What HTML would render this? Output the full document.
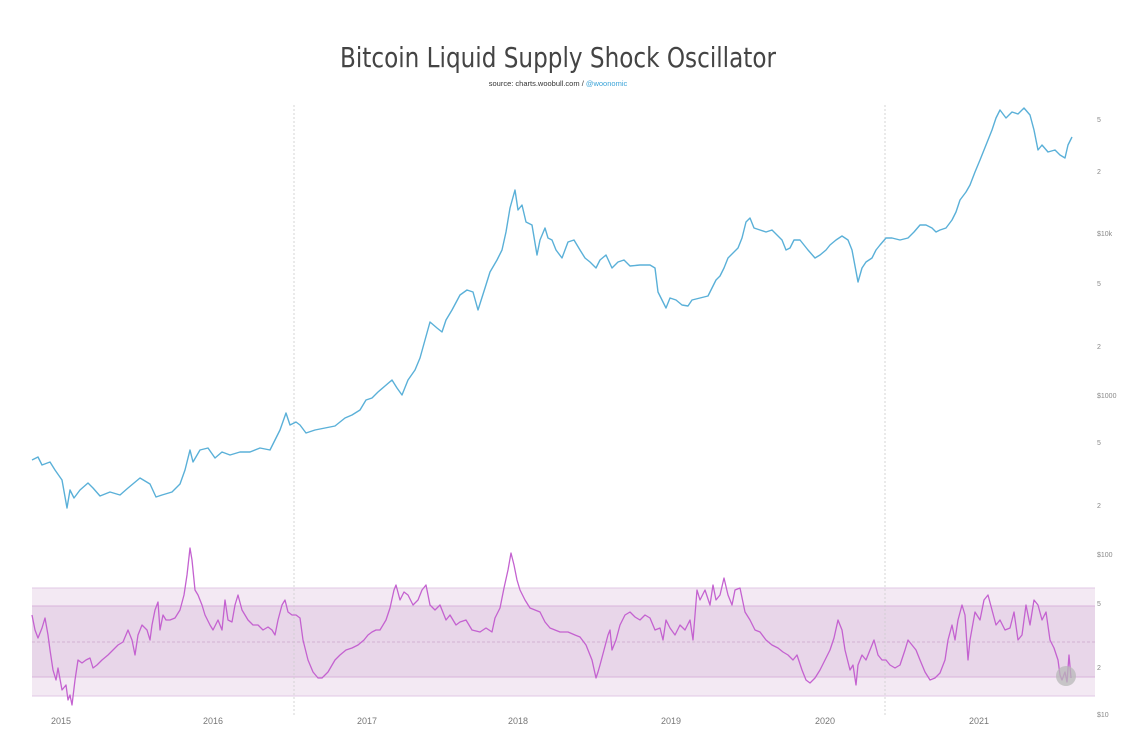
<!DOCTYPE html>
<html><head><meta charset="utf-8"><style>
html,body{margin:0;padding:0;background:#fff;}
svg{display:block;font-family:"Liberation Sans",sans-serif;}
</style></head><body>
<svg width="1134" height="742" viewBox="0 0 1134 742">
<rect width="1134" height="742" fill="#fff"/>
<text x="558" y="67" text-anchor="middle" font-size="28" fill="#444" style="font-family:'DejaVu Sans','Liberation Sans',sans-serif" textLength="436" lengthAdjust="spacingAndGlyphs">Bitcoin Liquid Supply Shock Oscillator</text>
<text x="558" y="86" text-anchor="middle" font-size="7.5" fill="#333">source: charts.woobull.com / <tspan fill="#3aa3d8">@woonomic</tspan></text>
<!-- bands -->
<rect x="32" y="588" width="1063" height="108" fill="#f3e9f3"/>
<rect x="32" y="606" width="1063" height="71" fill="#e8d6e9"/>
<line x1="32" y1="588" x2="1095" y2="588" stroke="#e2c8e4" stroke-width="1"/>
<line x1="32" y1="696" x2="1095" y2="696" stroke="#e2c8e4" stroke-width="1"/>
<line x1="32" y1="606" x2="1095" y2="606" stroke="#d8b4db" stroke-width="1"/>
<line x1="32" y1="677" x2="1095" y2="677" stroke="#d8b4db" stroke-width="1"/>
<line x1="32" y1="642" x2="1095" y2="642" stroke="#caa5cd" stroke-width="0.8" stroke-dasharray="3,2"/>
<line x1="294" y1="105" x2="294" y2="715" stroke="#ccc" stroke-width="0.8" stroke-dasharray="2,2"/>
<line x1="885" y1="105" x2="885" y2="715" stroke="#ccc" stroke-width="0.8" stroke-dasharray="2,2"/>
<!-- y labels -->
<g font-size="7" fill="#888">
<text x="1097" y="122">5</text><text x="1097" y="174">2</text><text x="1097" y="236">$10k</text>
<text x="1097" y="286">5</text><text x="1097" y="349">2</text><text x="1097" y="398">$1000</text>
<text x="1097" y="445">5</text><text x="1097" y="508">2</text><text x="1097" y="557">$100</text>
<text x="1097" y="606">5</text><text x="1097" y="670">2</text><text x="1097" y="717">$10</text>
</g>
<g font-size="9" fill="#777" text-anchor="middle">
<text x="61" y="724">2015</text><text x="213" y="724">2016</text><text x="367" y="724">2017</text>
<text x="518" y="724">2018</text><text x="671" y="724">2019</text><text x="825" y="724">2020</text><text x="979" y="724">2021</text>
</g>
<polyline fill="none" stroke="#5ab0d8" stroke-width="1.4" stroke-linejoin="round" points="32,460 38,457 42,465 50,462 55,470 62,480 67,508 70,490 74,498 80,490 88,483 93,488 100,496 110,492 120,495 128,488 140,478 150,484 156,497 162,495 172,492 180,484 185,470 190,450 193,462 200,450 208,448 215,458 222,452 230,455 240,452 250,452 260,448 270,450 275,440 280,430 286,413 290,425 296,422 300,425 306,433 315,430 325,428 335,426 345,418 352,415 360,410 366,400 372,398 378,392 385,386 392,380 397,388 402,395 408,380 415,370 420,358 425,340 430,322 437,328 442,332 446,320 452,310 460,295 467,290 473,292 478,310 485,288 490,272 497,260 502,250 506,232 510,208 515,190 518,210 522,205 526,222 532,225 537,255 540,240 545,228 548,238 552,240 556,250 562,258 568,242 574,240 580,250 585,258 590,262 596,268 600,260 606,255 612,268 618,262 624,260 630,266 640,265 650,265 655,268 658,292 662,300 666,308 670,298 676,300 682,305 688,306 692,300 700,298 708,296 712,288 716,280 720,276 724,268 728,258 734,252 738,248 742,238 746,222 750,218 754,228 760,230 766,232 772,230 778,236 782,240 786,250 790,248 794,240 800,240 808,250 815,258 820,255 826,250 830,245 836,240 842,236 848,240 852,250 858,282 862,268 866,262 872,258 876,250 880,245 886,238 892,238 900,240 908,238 914,232 920,225 926,225 932,228 936,232 940,230 946,228 952,220 956,212 960,200 966,192 970,185 975,172 980,160 984,150 988,140 992,130 996,118 1000,110 1006,118 1012,112 1018,114 1024,108 1030,115 1034,130 1038,150 1042,145 1048,152 1055,150 1060,155 1065,158 1068,145 1072,137"/>
<polyline fill="none" stroke="#c462d0" stroke-width="1.3" stroke-linejoin="round" points="32,615 35,630 38,638 42,628 45,618 48,635 50,650 53,670 56,680 58,668 62,690 66,685 68,700 70,695 72,705 75,680 78,660 82,663 86,660 90,658 93,668 97,665 102,660 108,655 113,650 118,645 123,642 128,630 132,640 135,655 138,635 142,625 147,630 150,640 152,625 155,610 158,602 160,630 163,615 166,620 170,620 175,618 180,610 184,595 187,575 190,548 192,560 195,590 198,595 202,605 205,615 210,625 213,630 218,620 222,630 225,600 228,620 232,622 235,605 238,595 242,610 248,620 253,625 258,625 263,630 268,627 272,630 275,635 278,620 282,605 285,600 288,612 292,615 296,615 300,618 303,640 308,660 313,672 318,678 322,678 328,672 335,660 340,655 346,650 352,648 358,645 364,640 368,635 372,632 376,630 380,630 386,620 390,608 394,590 396,585 400,600 404,592 408,595 413,605 418,600 422,590 426,585 430,605 435,610 440,605 446,620 450,615 456,625 460,622 466,620 472,630 480,632 486,628 492,632 495,618 500,608 504,588 508,570 511,553 514,565 517,580 520,590 525,600 530,608 535,610 540,612 545,622 550,628 555,630 560,632 568,632 575,635 580,637 586,645 592,660 596,678 598,672 600,665 604,650 608,635 610,630 612,650 616,640 620,625 625,615 630,612 635,617 640,620 645,615 650,618 655,630 660,628 663,640 666,620 670,628 675,635 680,625 685,630 690,620 693,640 695,615 697,590 700,600 705,590 710,605 713,585 716,600 720,595 724,578 728,595 732,605 735,590 740,588 745,612 750,620 755,630 760,632 766,640 772,645 778,648 783,652 788,655 793,660 797,655 802,670 806,680 810,683 815,678 820,670 825,660 830,650 834,638 838,620 842,630 845,650 850,670 853,665 856,685 858,665 862,655 866,660 870,650 874,640 878,655 882,660 886,660 890,665 895,668 900,665 905,650 908,640 912,645 916,650 920,660 925,672 930,680 935,678 940,673 945,660 948,640 952,625 955,640 958,620 962,605 965,615 968,660 970,640 975,612 980,620 984,600 988,595 992,610 996,625 1000,620 1005,630 1010,628 1014,612 1018,640 1022,635 1026,605 1030,625 1034,600 1038,605 1042,620 1046,612 1050,640 1054,648 1058,660 1060,675 1062,680 1065,672 1067,682 1069,655 1071,678"/>
<circle cx="1066" cy="676" r="10" fill="#b8b8b8" fill-opacity="0.75"/>
</svg>
</body></html>
